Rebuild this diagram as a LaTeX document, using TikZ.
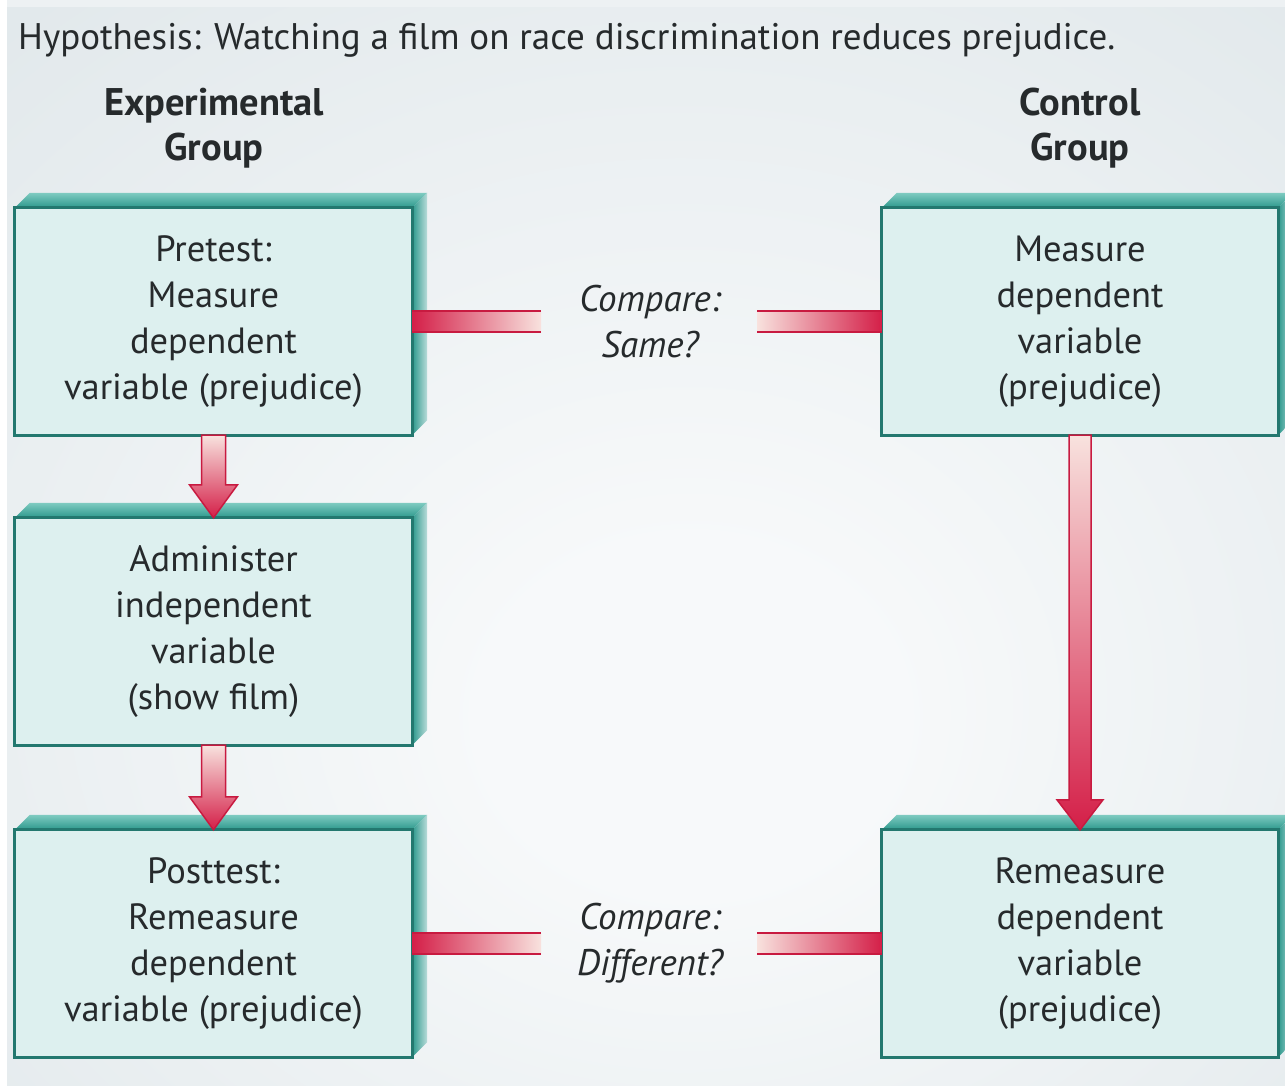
\documentclass[tikz,border=0pt]{standalone}
\usepackage{fontspec}
\setmainfont{PT Sans}
\usetikzlibrary{calc}
\definecolor{bgin}{HTML}{F7F9FA}
\definecolor{bgmid}{HTML}{E1E8EB}
\definecolor{bgout}{HTML}{C0CED5}
\definecolor{boxfill}{HTML}{DDF0EF}
\definecolor{boxline}{HTML}{23786F}
\definecolor{facedark}{HTML}{2C988C}
\definecolor{facelight}{HTML}{7FCBC1}
\definecolor{crim}{HTML}{D41F48}
\definecolor{crimline}{HTML}{C81A40}
\definecolor{pinklight}{HTML}{F8E2DE}
\definecolor{txt}{HTML}{262A2C}
\pgfdeclareradialshading{bgshade}{\pgfpoint{2bp}{-9bp}}{color(0bp)=(bgin); color(8bp)=(bgin); color(40bp)=(bgmid); color(72bp)=(bgout)}
\tikzset{
 stepbox/.style={rectangle, minimum width=397pt, minimum height=227pt, inner sep=0pt, fill=boxfill, align=center, text=txt, font=\fontsize{36.5}{46}\selectfont},
 boxedge/.style={draw=boxline, line width=3pt},
 cmplabel/.style={align=center, text=txt, inner sep=0pt, font=\fontsize{37}{46}\selectfont\itshape},
 grouphead/.style={align=center, text=txt, inner sep=0pt, font=\fontsize{38.5}{45}\selectfont\bfseries},
 barline/.style={draw=crimline, line width=2pt},
 arrowshape/.style={draw=crimline, line width=1.5pt, top color=pinklight, bottom color=crim},
}
\newcommand\boxfaces[1]{%
 \shade[top color=facelight, bottom color=facedark] (#1.north west) -- ++(15,-15) -- ($(#1.north east)+(15,-15)$) -- (#1.north east) -- cycle;
 \shade[left color=facedark, right color=facelight!40!bgmid] (#1.north east) -- ++(15,-15) -- ($(#1.south east)+(15,-15)$) -- (#1.south east) -- cycle;
 \draw[boxedge] (#1.north west) rectangle (#1.south east);
}
\begin{document}
\begin{tikzpicture}[x=1pt,y=-1pt]
\useasboundingbox (0,0) rectangle (1285,1085);
\fill[white] (0,0) rectangle (1285,1085);
\fill[bgmid!60!white] (7,0) rectangle (1285,7);
\shade[shading=bgshade] (7,7) rectangle (1285,1085);

% title and headings
\node[anchor=base west, inner sep=0pt, text=txt, font=\fontsize{37}{40}\selectfont] (title) at (18,49) {Hypothesis: Watching a film on race discrimination reduces prejudice.};
\node[grouphead] (hexp) at (214,128) {Experimental\\Group};
\node[grouphead] (hctl) at (1080,128) {Control\\Group};

% boxes
\node[stepbox] (b1) at (213.5,321.5) {Pretest:\\Measure\\dependent\\variable (prejudice)};
\node[stepbox] (b2) at (213.5,631.5) {Administer\\independent\\variable\\(show film)};
\node[stepbox] (b3) at (213.5,943.5) {Posttest:\\Remeasure\\dependent\\variable (prejudice)};
\node[stepbox, minimum width=396pt] (b4) at (1080,321.5) {Measure\\dependent\\variable\\(prejudice)};
\node[stepbox, minimum width=396pt] (b5) at (1080,943.5) {Remeasure\\dependent\\variable\\(prejudice)};
\boxfaces{b1}
\boxfaces{b2}
\boxfaces{b3}
\boxfaces{b4}
\boxfaces{b5}

% compare labels
\node[cmplabel] (c1) at (650,321.5) {Compare:\\Same?};
\node[cmplabel] (c2) at (650,943.5) {Compare:\\Different?};

% horizontal bars
\coordinate (e1l) at (541,321.5);
\coordinate (e1r) at (757,321.5);
\coordinate (e2l) at (541,943.5);
\coordinate (e2r) at (757,943.5);
\shade[left color=crim, right color=pinklight] ($(b1.east)+(0,-10.5)$) rectangle ($(e1l)+(0,10.5)$);
\draw[barline] ($(b1.east)+(0,-10.5)$) -- ($(e1l)+(0,-10.5)$);
\draw[barline] ($(b1.east)+(0,10.5)$) -- ($(e1l)+(0,10.5)$);
\shade[left color=pinklight, right color=crim] ($(e1r)+(0,-10.5)$) rectangle ($(b4.west)+(0,10.5)$);
\draw[barline] ($(e1r)+(0,-10.5)$) -- ($(b4.west)+(0,-10.5)$);
\draw[barline] ($(e1r)+(0,10.5)$) -- ($(b4.west)+(0,10.5)$);
\shade[left color=crim, right color=pinklight] ($(b3.east)+(0,-10.5)$) rectangle ($(e2l)+(0,10.5)$);
\draw[barline] ($(b3.east)+(0,-10.5)$) -- ($(e2l)+(0,-10.5)$);
\draw[barline] ($(b3.east)+(0,10.5)$) -- ($(e2l)+(0,10.5)$);
\shade[left color=pinklight, right color=crim] ($(e2r)+(0,-10.5)$) rectangle ($(b5.west)+(0,10.5)$);
\draw[barline] ($(e2r)+(0,-10.5)$) -- ($(b5.west)+(0,-10.5)$);
\draw[barline] ($(e2r)+(0,10.5)$) -- ($(b5.west)+(0,10.5)$);

% vertical arrows
\path[arrowshape] ($(b1.south)+(-12,0)$) -- ($(b2.north)+(-12,-33)$) -- ($(b2.north)+(-24,-33)$) -- (b2.north) -- ($(b2.north)+(24,-33)$) -- ($(b2.north)+(12,-33)$) -- ($(b1.south)+(12,0)$) -- cycle;
\path[arrowshape] ($(b2.south)+(-12,0)$) -- ($(b3.north)+(-12,-33)$) -- ($(b3.north)+(-24,-33)$) -- (b3.north) -- ($(b3.north)+(24,-33)$) -- ($(b3.north)+(12,-33)$) -- ($(b2.south)+(12,0)$) -- cycle;
\path[arrowshape] ($(b4.south)+(-11,0)$) -- ($(b5.north)+(-11,-30)$) -- ($(b5.north)+(-23,-30)$) -- (b5.north) -- ($(b5.north)+(23,-30)$) -- ($(b5.north)+(11,-30)$) -- ($(b4.south)+(11,0)$) -- cycle;
\end{tikzpicture}
\end{document}
